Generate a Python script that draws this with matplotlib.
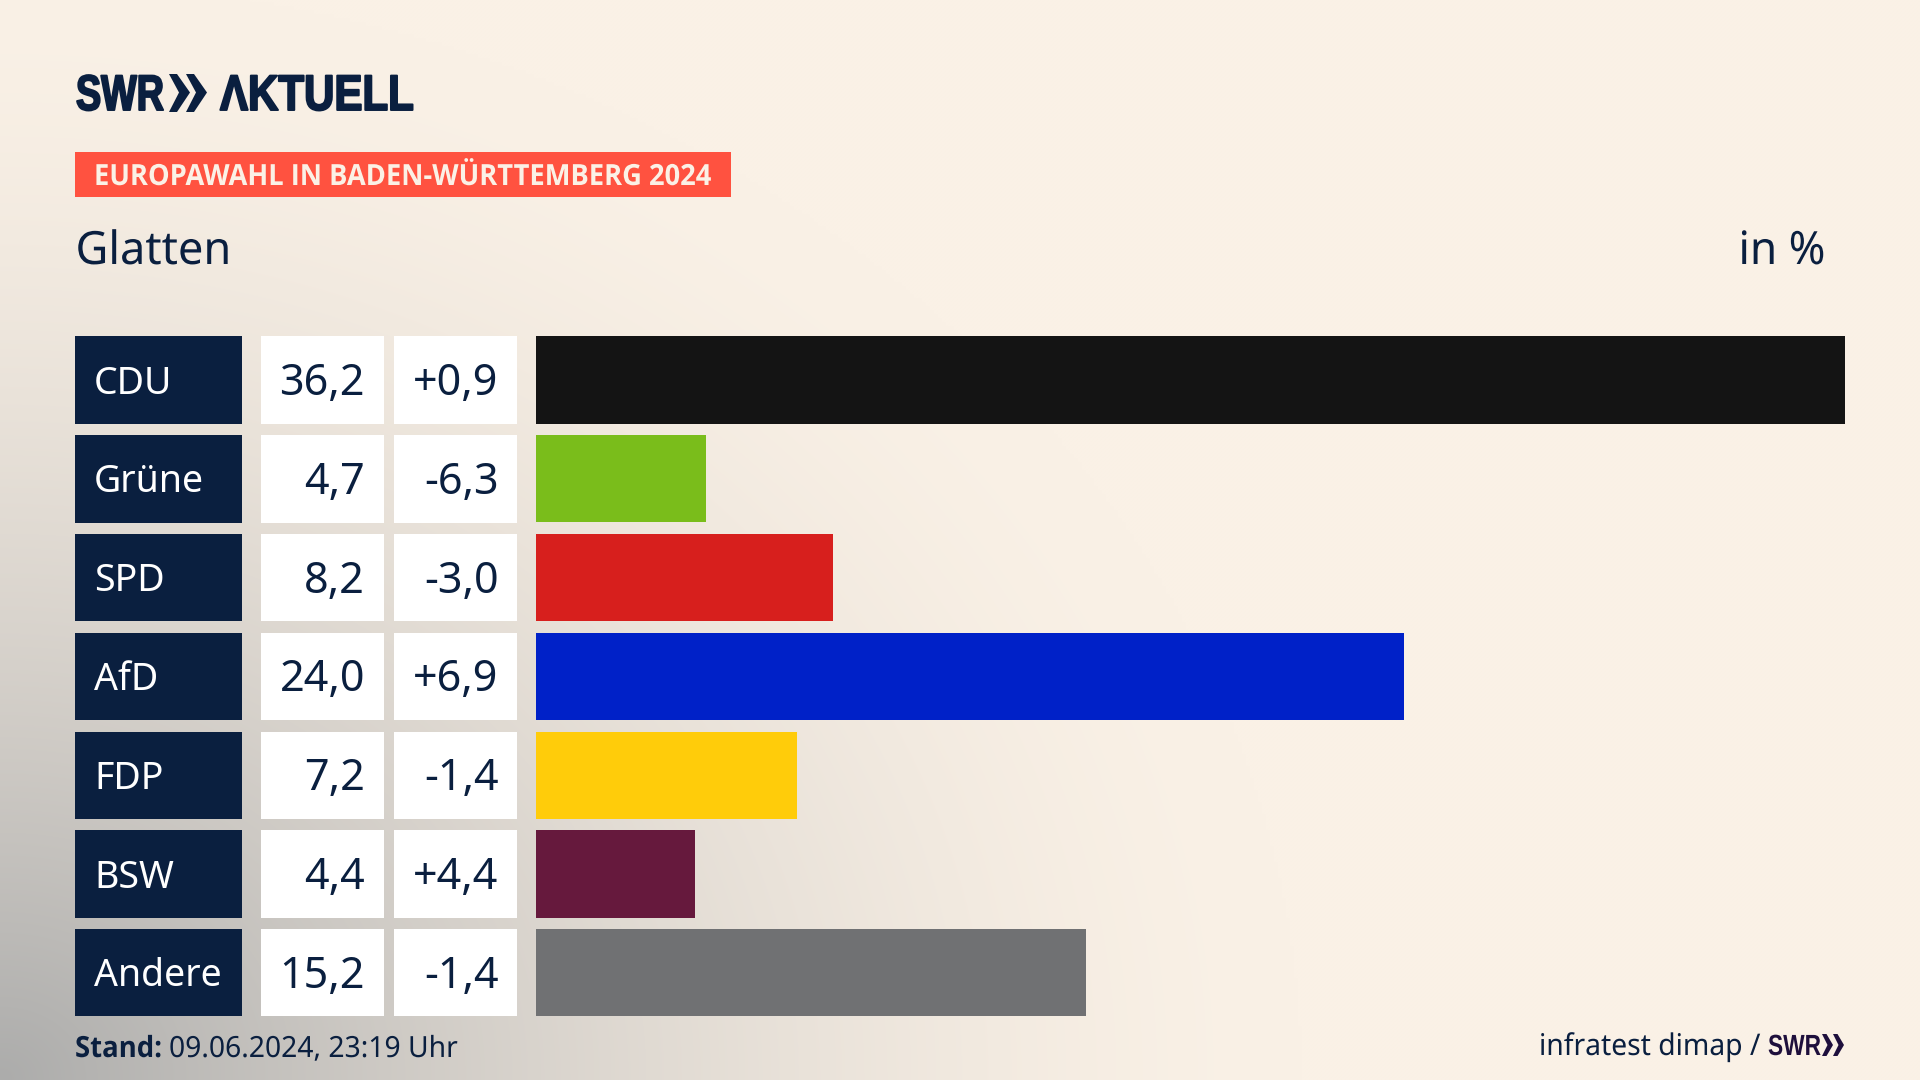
import numpy as np
import matplotlib
matplotlib.use("Agg")
import matplotlib.pyplot as plt
from matplotlib.patches import Rectangle, Polygon
from matplotlib.patheffects import AbstractPathEffect
from matplotlib.transforms import Affine2D

parties = ["CDU", "Grüne", "SPD", "AfD", "FDP", "BSW", "Andere"]
shares = [36.2, 4.7, 8.2, 24.0, 7.2, 4.4, 15.2]
changes = ["+0,9", "-6,3", "-3,0", "+6,9", "-1,4", "+4,4", "-1,4"]
colors = ["#141414", "#7ABD1B", "#D71F1D", "#0021C8", "#FFCC0A", "#66193D", "#707173"]
share_labels = ["36,2", "4,7", "8,2", "24,0", "7,2", "4,4", "15,2"]

NAVY = "#0A1F3F"
FONT = "Noto Sans"
BOLD = "Open Sans"
LOGO = "Liberation Sans"
W, H = 1920, 1080
fig = plt.figure(figsize=(19.2, 10.8), dpi=100)


class XScale(AbstractPathEffect):
    """Squeeze a text horizontally about its left edge (pixels), optionally thickening it."""
    def __init__(self, sx, x0, stroke=0):
        super().__init__()
        self.sx, self.x0, self.stroke = sx, x0, stroke

    def draw_path(self, renderer, gc, tpath, affine, rgbFace=None):
        t = affine + Affine2D().translate(-self.x0, 0).scale(self.sx, 1).translate(self.x0, 0)
        g = renderer.new_gc()
        g.copy_properties(gc)
        if self.stroke:
            g.set_foreground(rgbFace)
            g.set_linewidth(self.stroke)
        renderer.draw_path(g, tpath, t, rgbFace)
        g.restore()


bg = fig.add_axes([0, 0, 1, 1])


def fit(x, y, s, width, stroke=0, **kw):
    """Left-aligned text squeezed or stretched to a given pixel width."""
    t = bg.text(x, y, s, va="baseline", ha="left", zorder=3, **kw)
    w = t.get_window_extent(fig.canvas.get_renderer()).width
    t.set_path_effects([XScale(width / w, x, stroke)])
    return t


yy, xx = np.mgrid[0:H:270j, 0:W:480j]
d = np.sqrt((xx / 1300.0) ** 2 + ((H - yy) / 1100.0) ** 2)
t = np.clip(1 - d, 0, 1) ** 1.6
cream = np.array([250, 241, 230]) / 255
gray = np.array([172, 172, 171]) / 255
img = cream[None, None, :] * (1 - t[..., None]) + gray[None, None, :] * t[..., None]
bg.imshow(img, extent=(0, W, H, 0), aspect="auto", interpolation="bilinear", zorder=0)
bg.set_xlim(0, W); bg.set_ylim(H, 0); bg.axis("off")

TOP0, PITCH, ROW_H = 336.4, 98.8, 87.3

BAR_L, BAR_R = 536.3, 1845.0
ax = fig.add_axes([BAR_L / W, 0, (BAR_R - BAR_L) / W, 1])
ax.patch.set_alpha(0)
ax.axis("off")
ax.set_xlim(0, max(shares))
ax.set_ylim((H - (TOP0 + ROW_H / 2)) / PITCH, -(TOP0 + ROW_H / 2) / PITCH)
ax.barh(range(len(parties)), shares, height=ROW_H / PITCH, color=colors, linewidth=0)

for i, (p, s, c) in enumerate(zip(parties, share_labels, changes)):
    top = TOP0 + i * PITCH
    mid = top + ROW_H / 2
    bg.add_patch(Rectangle((75, top), 167.4, ROW_H, fc=NAVY, lw=0, zorder=2))
    bg.add_patch(Rectangle((261, top), 122.5, ROW_H, fc="white", lw=0, zorder=2))
    bg.add_patch(Rectangle((394, top), 123, ROW_H, fc="white", lw=0, zorder=2))
    base = mid + 15
    bg.text(94, base - 1.5, p, color="white", fontsize=27, family=FONT, va="baseline", ha="left", zorder=3)
    bg.text(365, base, s, color=NAVY, fontsize=31, family=FONT, va="baseline", ha="right", zorder=3)
    bg.text(498.5, base, c, color=NAVY, fontsize=31, family=FONT, va="baseline", ha="right", zorder=3)

# header logo
fit(76, 110, "SWR", 88, stroke=1.4, color=NAVY, fontsize=36, family=LOGO, weight="bold")
for x0 in (169, 186):
    bg.add_patch(Polygon([(x0, 74), (x0 + 8, 74), (x0 + 21, 92.5), (x0 + 8, 112), (x0, 112), (x0 + 10, 92.5)],
                         fc=NAVY, lw=0, zorder=3))
fit(220, 110, "ΛKTUELL", 194, stroke=1.4, color=NAVY, fontsize=36, family=LOGO, weight="bold")

# pill
bg.add_patch(Rectangle((75, 152), 656, 45, fc="#FF5240", lw=0, zorder=2))
fit(94, 185, "EUROPAWAHL IN BADEN-WÜRTTEMBERG 2024", 617, color="#FBF1E6", fontsize=21, weight="bold", family=BOLD)

fit(75.5, 264, "Glatten", 156, color=NAVY, fontsize=33, family=FONT)
fit(1738.5, 264, "in %", 87, color=NAVY, fontsize=33, family=FONT)

# footer
fit(75, 1057, "Stand:", 87, color=NAVY, fontsize=21, weight="bold", family=BOLD)
fit(169, 1057, "09.06.2024, 23:19 Uhr", 289, color=NAVY, fontsize=21, family=FONT)
fit(1539, 1055, "infratest dimap /", 221, color=NAVY, fontsize=21.5, family=FONT)
fit(1768, 1055, "SWR", 53, color="#1E0F3C", fontsize=21, family=LOGO, weight="bold")
for x0 in (1822, 1833):
    bg.add_patch(Polygon([(x0, 1034), (x0 + 4.5, 1034), (x0 + 11, 1045), (x0 + 4.5, 1056), (x0, 1056), (x0 + 5.5, 1045)],
                         fc="#1E0F3C", lw=0, zorder=3))

fig.savefig("out.png", dpi=100)
